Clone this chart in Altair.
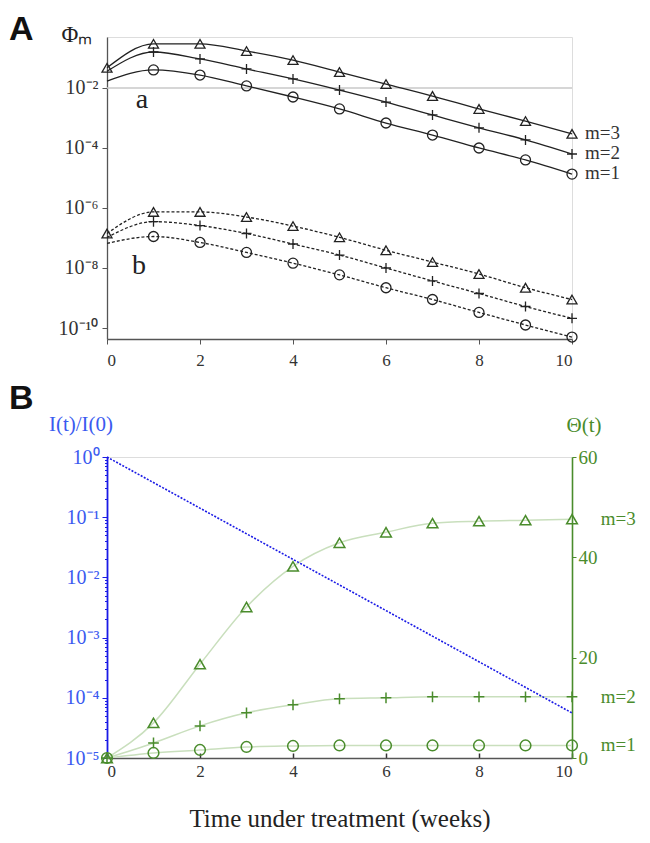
import altair as alt
import pandas as pd

SERIF = "Liberation Serif"
GREEN = "#4a8c2c"
LIGHT_GREEN = "#c9dfbd"
BLUE = "#1a1ae6"
BLUE_TXT = "#3a5af0"

# ---------------- data ----------------
weeks = [0, 1, 2, 3, 4, 5, 6, 7, 8, 9, 10]

# Panel A, curve family "a" (solid)
a_m3 = [4.7e-2, 2.95e-1, 2.95e-1, 1.70e-1, 8.5e-2, 3.4e-2, 1.35e-2, 5.4e-3, 2.0e-3, 7.9e-4, 2.95e-4]
a_m2 = [3.6e-2, 1.58e-1, 9.3e-2, 4.3e-2, 2.0e-2, 8.5e-3, 3.4e-3, 1.26e-3, 4.7e-4, 1.86e-4, 6.3e-5]
a_m1 = [1.7e-2, 4.0e-2, 2.7e-2, 1.17e-2, 5.0e-3, 2.0e-3, 6.8e-4, 2.7e-4, 1.0e-4, 4.0e-5, 1.35e-5]
# Panel A, curve family "b" (dashed)
b_m3 = [1.41e-7, 7.4e-7, 7.4e-7, 5.0e-7, 2.5e-7, 1.05e-7, 3.9e-8, 1.58e-8, 6.3e-9, 2.2e-9, 8.9e-10]
b_m2 = [1.05e-7, 3.5e-7, 2.6e-7, 1.41e-7, 6.3e-8, 2.7e-8, 1.0e-8, 3.7e-9, 1.41e-9, 5.2e-10, 2.1e-10]
b_m1 = [6.6e-8, 1.12e-7, 7.1e-8, 3.3e-8, 1.45e-8, 5.9e-9, 2.2e-9, 8.9e-10, 3.3e-10, 1.26e-10, 5.0e-11]

ref_line_t = [0, 10]
ref_line_v = [1e-2, 1e-2]

# Panel B
i_t = [0, 10]
i_ratio = [1.0, 5.6e-5]
theta_m3 = [0, 7.0, 18.7, 30.1, 38.2, 42.9, 45.0, 46.8, 47.2, 47.4, 47.6]
theta_m2 = [0, 3.0, 6.4, 9.0, 10.6, 11.8, 12.0, 12.2, 12.2, 12.2, 12.2]
theta_m1 = [0, 1.0, 1.6, 2.2, 2.4, 2.5, 2.5, 2.5, 2.5, 2.5, 2.5]

m_values = [1, 2, 3]
m_labels = ["m=1", "m=2", "m=3"]

# label placement (data coords)
a_label_pos = (0.75, 2.2e-3)
b_label_pos = (0.69, 6.3e-9)
m_label_t_A = 10.28
m_label_t_B = 10.62

A_yticks = [1e-10, 1e-8, 1e-6, 1e-4, 1e-2]
B_yticks_major = [1e-5, 1e-4, 1e-3, 1e-2, 1e-1, 1.0]
B_theta_ticks = [0, 20, 40, 60]
x_ticks = [0, 2, 4, 6, 8, 10]

W = 465
HA = 302
HB = 301

# ---------------- helpers ----------------
SUP = {"-": "\u207b", "0": "\u2070", "1": "\u00b9", "2": "\u00b2", "3": "\u00b3",
       "4": "\u2074", "5": "\u2075", "6": "\u2076", "7": "\u2077", "8": "\u2078", "9": "\u2079"}


def sup(n):
    return "".join(SUP[c] for c in str(n))


def decade_label_expr(exps):
    e = "round(log(datum.value)/LN10)"
    expr = "''"
    for k in exps:
        expr = f"({e} == {k} ? '10{sup(k)}' : {expr})"
    return expr


def long_table(series_by_m):
    rows = []
    for m, vals in series_by_m.items():
        for t, v in zip(weeks, vals):
            rows.append({"t": t, "v": v, "m": m})
    return pd.DataFrame(rows)


def annot(text, x, y, **kw):
    return alt.Chart(pd.DataFrame({"lab": [text]})).mark_text(**kw).encode(
        x=alt.value(x), y=alt.value(y), text="lab:N")


PLUS = "M-1,0L1,0M0,-1L0,1"
shape_scale = alt.Scale(domain=m_values, range=["circle", PLUS, "triangle-up"])

df_a = long_table({1: a_m1, 2: a_m2, 3: a_m3})
df_b = long_table({1: b_m1, 2: b_m2, 3: b_m3})
df_ref = pd.DataFrame({"t": ref_line_t, "v": ref_line_v})
df_mlab_A = pd.DataFrame({"t": [m_label_t_A] * 3, "v": [a_m1[-1], a_m2[-1], a_m3[-1]], "lab": m_labels})
df_ab = pd.DataFrame({"t": [a_label_pos[0], b_label_pos[0]], "v": [a_label_pos[1], b_label_pos[1]], "lab": ["a", "b"]})

x_scale = alt.Scale(domain=[0, 10], nice=False)
yA_scale = alt.Scale(type="log", domain=[4.3e-11, 0.5], nice=False)

xA = alt.X("t:Q", scale=x_scale,
           axis=alt.Axis(values=x_ticks, format="d", grid=False, title=None,
                         labelFont=SERIF, labelFontSize=17, labelColor="#333",
                         labelPadding=8, tickSize=5, domainColor="#555", tickColor="#555",
                         domainWidth=1.3))
yA = alt.Y("v:Q", scale=yA_scale,
           axis=alt.Axis(values=A_yticks, labelExpr=decade_label_expr([-10, -8, -6, -4, -2]),
                         grid=False, title=None,
                         labelFont=SERIF, labelFontSize=20, labelColor="#333", labelPadding=4,
                         tickSize=5, domainColor="#555", tickColor="#555", domainWidth=1.3))

ref = alt.Chart(df_ref).mark_line(color="#c8c8c8", strokeWidth=1.5).encode(x=xA, y=yA)
lines_a = alt.Chart(df_a).mark_line(color="#222", strokeWidth=1.3, interpolate="monotone").encode(
    x=xA, y=yA, detail="m:N")
lines_b = alt.Chart(df_b).mark_line(color="#222", strokeWidth=1.3, strokeDash=[3, 2],
                                    interpolate="monotone").encode(x=xA, y=yA, detail="m:N")
pts_filter = "datum.t > 0 || datum.m == 3"
pts_a = alt.Chart(df_a).transform_filter(pts_filter).mark_point(
    filled=False, color="#222", size=100, strokeWidth=1.3, opacity=1).encode(
    x=xA, y=yA, shape=alt.Shape("m:O", scale=shape_scale, legend=None))
pts_b = alt.Chart(df_b).transform_filter(pts_filter).mark_point(
    filled=False, color="#222", size=100, strokeWidth=1.3, opacity=1).encode(
    x=xA, y=yA, shape=alt.Shape("m:O", scale=shape_scale, legend=None))
mlab_A = alt.Chart(df_mlab_A).mark_text(align="left", baseline="middle", font=SERIF,
                                         fontSize=19, color="#333", dy=-1).encode(
    x=xA, y=yA, text="lab:N")
ablab = alt.Chart(df_ab).mark_text(align="center", baseline="alphabetic", font=SERIF,
                                    fontSize=28, color="#222").encode(x=xA, y=yA, text="lab:N")

letterA = annot("A", -98, -24, align="left", baseline="top", font="Liberation Sans",
                fontSize=34, fontWeight="bold", color="#111")
phiA = annot("\u03a6\u2098", -30, 5, align="center", baseline="alphabetic", font=SERIF,
             fontSize=23, color="#222")

panelA = alt.layer(ref, lines_a, lines_b, pts_a, pts_b, mlab_A, ablab, letterA, phiA).properties(
    width=W, height=HA)

# ---------------- panel B ----------------
df_i = pd.DataFrame({"t": i_t, "v": i_ratio})
df_th = long_table({1: theta_m1, 2: theta_m2, 3: theta_m3})
df_mlab_B = pd.DataFrame({"t": [m_label_t_B] * 3,
                          "v": [theta_m1[-1], theta_m2[-1], theta_m3[-1]], "lab": m_labels})

minor = []
for e in range(-5, 0):
    for k in range(2, 10):
        minor.append(k * 10.0 ** e)
B_left_values = sorted(B_yticks_major + minor)
is_major = "abs(log(datum.value)/LN10 - round(log(datum.value)/LN10)) < 0.001"

xB = alt.X("t:Q", scale=x_scale,
           axis=alt.Axis(values=x_ticks, format="d", grid=False,
                         title="Time under treatment (weeks)", titleFont=SERIF, titleFontSize=25,
                         titleFontWeight="normal", titleColor="#222", titlePadding=27,
                         labelFont=SERIF, labelFontSize=17, labelColor="#333", labelPadding=10,
                         tickSize={"expr": "-5"}, domainColor="#555", tickColor="#333",
                         domainWidth=1.5, tickWidth=1.5))
yB_left = alt.Y("v:Q", scale=alt.Scale(type="log", domain=[1e-5, 1.0], nice=False),
                axis=alt.Axis(values=B_left_values,
                              labelExpr=f"{is_major} ? " + decade_label_expr([-5, -4, -3, -2, -1, 0]) + " : ''",
                              grid=False, title=None,
                              labelFont=SERIF, labelFontSize=20, labelColor=BLUE_TXT, labelPadding=3,
                              tickSize={"condition": {"test": is_major, "value": 5}, "value": 2.5},
                              domainColor=BLUE, tickColor=BLUE, domainWidth=1.8, labelOverlap=False))
yB_right = alt.Y("v:Q", scale=alt.Scale(domain=[0, 60], nice=False),
                 axis=alt.Axis(orient="right", values=B_theta_ticks, grid=False, title=None,
                               labelFont=SERIF, labelFontSize=19,
                               labelColor=GREEN, labelPadding=2, tickSize=4, domainColor=GREEN,
                               tickColor=GREEN, domainWidth=1.6))

blue_line = alt.Chart(df_i).mark_line(color=BLUE, strokeWidth=1.6, strokeDash=[2, 1.5]).encode(
    x=xB, y=yB_left)
th_lines = alt.Chart(df_th).mark_line(color=LIGHT_GREEN, strokeWidth=1.5, interpolate="monotone").encode(
    x=xB, y=yB_right, detail="m:N")
th_pts = alt.Chart(df_th).mark_point(filled=False, color=GREEN, size=115, strokeWidth=1.5, opacity=1).encode(
    x=xB, y=yB_right, shape=alt.Shape("m:O", scale=shape_scale, legend=None))
mlab_B = alt.Chart(df_mlab_B).mark_text(align="left", baseline="middle", font=SERIF, fontSize=19,
                                         color=GREEN).encode(x=xB, y=yB_right, text="lab:N")

letterB = annot("B", -98, -75, align="left", baseline="top", font="Liberation Sans",
                fontSize=34, fontWeight="bold", color="#111")
itB = annot("I(t)/I(0)", -26, -26, align="center", baseline="alphabetic", font=SERIF,
            fontSize=21, color=BLUE_TXT)
thB = annot("\u0398(t)", W + 12, -25, align="center", baseline="alphabetic", font=SERIF,
            fontSize=21, color=GREEN)

green = alt.layer(th_lines, th_pts, mlab_B)
panelB = alt.layer(green, blue_line, letterB, itB, thB).resolve_scale(y="independent").properties(
    width=W, height=HB)

chart = alt.vconcat(panelA, panelB, spacing=118, bounds="flush").properties(
    padding={"left": 0, "top": 4, "right": 0, "bottom": 0}
).configure_view(stroke=None).configure(background="white").configure_axis(
    labelFont=SERIF, titleFont=SERIF)

chart.save("out.html", embed_options={"renderer": "svg", "actions": False})
